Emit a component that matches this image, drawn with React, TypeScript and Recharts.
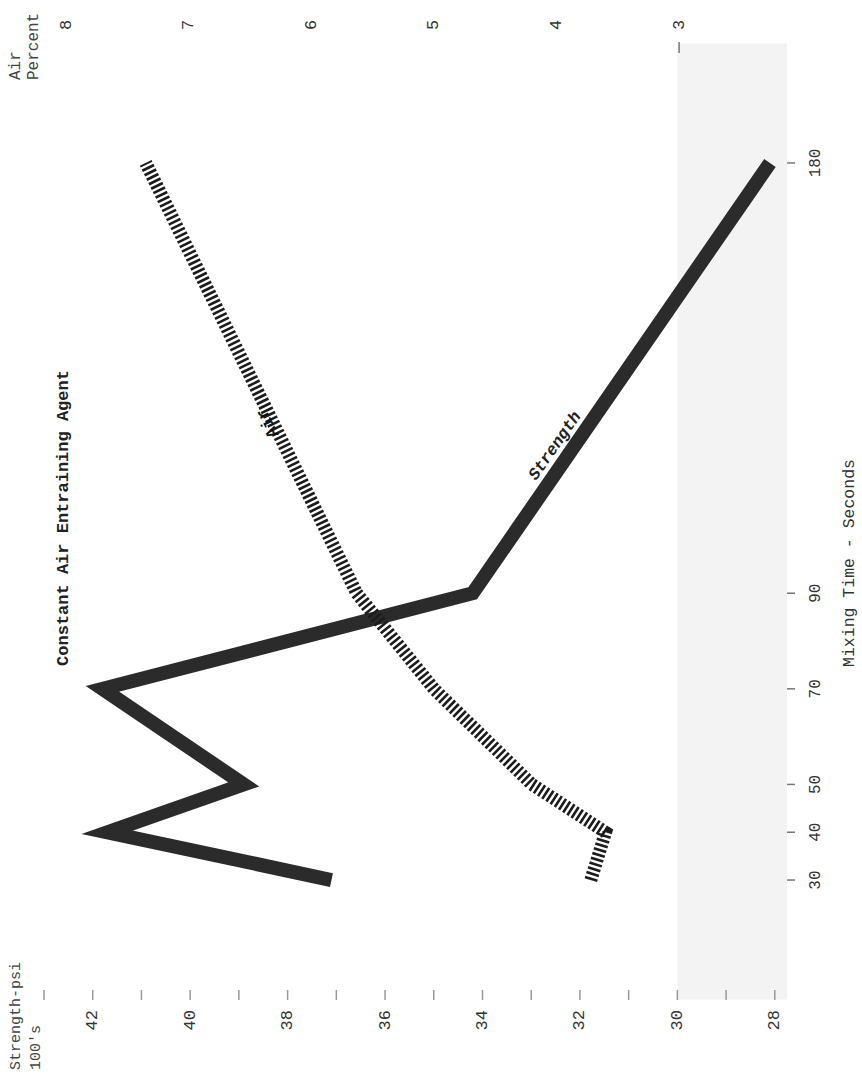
import React from 'react';
import { LineChart, Line, XAxis, YAxis, ReferenceArea } from 'recharts';

// mixing time in seconds
const mixingTime = [30, 40, 50, 70, 90, 180];
// compressive strength, psi in 100's
const strength = [37.1, 41.7, 38.9, 41.8, 34.2, 28.1];
// entrained air, percent
const airPercent = [3.72, 3.6, 4.2, 5.0, 5.63, 7.35];

const strengthTicks = [28, 29, 30, 31, 32, 33, 34, 35, 36, 37, 38, 39, 40, 41, 42, 43];
const strengthLabels = [28, 30, 32, 34, 36, 38, 40, 42];
const airTicks = [3, 4, 5, 6, 7, 8];
const timeTicks = [30, 40, 50, 70, 90, 180];

const data = mixingTime.map((t, i) => ({ time: t, strength: strength[i], air: airPercent[i] }));

const mono = '"Liberation Mono", "DejaVu Sans Mono", monospace';

const StrengthTick = (props: any) => {
  const { x, y, payload } = props;
  if (!strengthLabels.includes(payload.value)) return null;
  return (
    <text
      x={x}
      y={y}
      transform={`rotate(-90, ${x}, ${y})`}
      textAnchor="end"
      dominantBaseline="central"
      fontFamily={mono}
      fontSize={17}
      fill="#333"
    >
      {payload.value}
    </text>
  );
};

const AirTick = (props: any) => {
  const { x, y, payload } = props;
  return (
    <g>
      {payload.value === 3 && <line x1={x} x2={x} y1={y + 12} y2={y + 23} stroke="#777" strokeWidth={1.5} />}
      <text
        x={x}
        y={y}
        transform={`rotate(-90, ${x}, ${y})`}
        textAnchor="start"
        dominantBaseline="central"
        fontFamily={mono}
        fontSize={17}
        fill="#333"
      >
        {payload.value}
      </text>
    </g>
  );
};

const TimeTick = (props: any) => {
  const { x, y, payload } = props;
  return (
    <text
      x={x}
      y={y}
      transform={`rotate(-90, ${x}, ${y})`}
      textAnchor="middle"
      dominantBaseline="central"
      fontFamily={mono}
      fontSize={16}
      fill="#333"
    >
      {payload.value}
    </text>
  );
};

export default function App() {
  return (
    <div style={{ position: 'absolute', left: 0, top: 0, width: 862, height: 1083, background: '#fff' }}>
      <LineChart
        layout="vertical"
        width={862}
        height={1083}
        data={data}
        margin={{ top: 13, right: 15, bottom: 13, left: 44 }}
      >
        <XAxis
          xAxisId="s"
          type="number"
          orientation="bottom"
          reversed
          domain={[27.75, 43]}
          ticks={strengthTicks}
          interval={0}
          height={80}
          tickSize={10}
          tickMargin={10}
          axisLine={false}
          tickLine={{ stroke: '#999', strokeWidth: 1.5 }}
          tick={(p: any) => <StrengthTick {...p} />}
          allowDataOverflow
        />
        <XAxis
          xAxisId="a"
          type="number"
          orientation="top"
          reversed
          domain={[2.12, 8.18]}
          ticks={airTicks}
          interval={0}
          height={40}
          tickSize={11}
          tickMargin={12}
          axisLine={false}
          tickLine={false}
          tick={(p: any) => <AirTick {...p} />}
          allowDataOverflow
        />
        <YAxis
          type="number"
          dataKey="time"
          orientation="right"
          reversed
          domain={[7, 203]}
          ticks={timeTicks}
          interval={0}
          width={60}
          tickSize={8}
          tickMargin={21}
          axisLine={false}
          tickLine={{ stroke: '#777', strokeWidth: 1.5 }}
          tick={(p: any) => <TimeTick {...p} />}
          allowDataOverflow
        />
        <ReferenceArea xAxisId="s" x1={30} x2={27.75} y1={5} y2={205} fill="#f3f3f3" fillOpacity={1} stroke="none" ifOverflow="visible" />
        <Line
          xAxisId="s"
          dataKey="strength"
          type="linear"
          stroke="#2b2b2b"
          strokeWidth={14}
          strokeLinejoin="miter"
          strokeLinecap="butt"
          dot={false}
          isAnimationActive={false}
        />
        <Line
          xAxisId="a"
          dataKey="air"
          type="linear"
          stroke="#1c1c1c"
          strokeWidth={13}
          strokeDasharray="2.6 2.4"
          strokeLinejoin="miter"
          strokeLinecap="butt"
          dot={false}
          isAnimationActive={false}
        />
      </LineChart>
      <svg
        width={862}
        height={1083}
        style={{ position: 'absolute', left: 0, top: 0, pointerEvents: 'none' }}
      >
        <text x={63} y={518} transform="rotate(-90, 63, 518)" textAnchor="middle" dominantBaseline="central"
          fontFamily={mono} fontSize={17} fontWeight="bold" fill="#222">
          Constant Air Entraining Agent
        </text>
        <text x={849} y={563} transform="rotate(-90, 849, 563)" textAnchor="middle" dominantBaseline="central"
          fontFamily={mono} fontSize={16.5} fill="#333">
          Mixing Time - Seconds
        </text>
        <text x={16} y={1070} transform="rotate(-90, 16, 1070)" textAnchor="start" dominantBaseline="central"
          fontFamily={mono} fontSize={15} fill="#444">
          Strength-psi
        </text>
        <text x={36} y={1070} transform="rotate(-90, 36, 1070)" textAnchor="start" dominantBaseline="central"
          fontFamily={mono} fontSize={15} fill="#444">
          100's
        </text>
        <text x={16} y={80} transform="rotate(-90, 16, 80)" textAnchor="start" dominantBaseline="central"
          fontFamily={mono} fontSize={16} fill="#444">
          Air
        </text>
        <text x={34} y={80} transform="rotate(-90, 34, 80)" textAnchor="start" dominantBaseline="central"
          fontFamily={mono} fontSize={16} fill="#444">
          Percent
        </text>
        <text x={555} y={446} transform="rotate(-55, 555, 446)" textAnchor="middle" dominantBaseline="central"
          fontFamily={mono} fontSize={16.5} fontStyle="italic" fontWeight="bold" fill="#222">
          Strength
        </text>
        <text x={268} y={423} transform="rotate(-116, 268, 423)" textAnchor="middle" dominantBaseline="central"
          fontFamily={mono} fontSize={17} fontWeight="bold" fill="#111">
          Air
        </text>
      </svg>
    </div>
  );
}
